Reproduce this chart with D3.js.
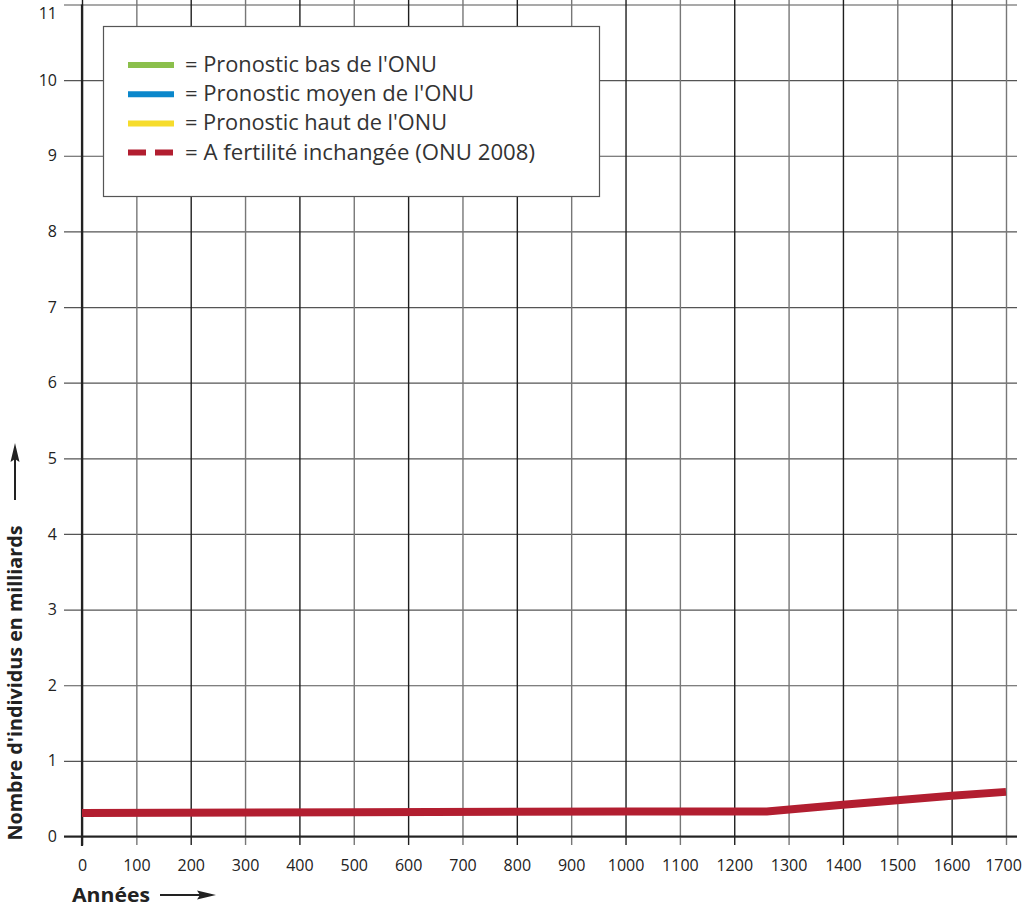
<!DOCTYPE html>
<html>
<head>
<meta charset="utf-8">
<script src="https://cdn.jsdelivr.net/npm/d3@7"></script>
<style>
  body { margin: 0; background: #fff; }
  text { font-family: "Open Sans", sans-serif; }
</style>
</head>
<body>
<div class="chart"></div>
<script>
// data
var years = [0, 500, 1000, 1260, 1400, 1500, 1600, 1700];
var popConstant = [0.31, 0.32, 0.33, 0.33, 0.42, 0.48, 0.54, 0.59];
var xTicks = d3.range(0, 1701, 100);
var yTicks = d3.range(0, 12, 1);
var legendLabels = [
  "= Pronostic bas de l'ONU",
  "= Pronostic moyen de l'ONU",
  "= Pronostic haut de l'ONU",
  "= A fertilité inchangée (ONU 2008)"
];
var legendColors = ["#8bbf4c", "#0a87cb", "#f6dc2c", "#b21e30"];
var legendDashed = [false, false, false, true];

var width = 1024, height = 910;

const svg = d3.select(".chart")
  .append("svg")
  .attr("width", width)
  .attr("height", height);

var x = d3.scaleLinear().domain([0, 1700]).range([82, 1006]);
var y = d3.scaleLinear().domain([0, 11]).range([836.5, 4.5]);

// horizontal grid + y labels
var yAxis = d3.axisLeft(y)
  .tickValues(yTicks)
  .tickSize(-(1017 - 64))
  .tickPadding(7)
  .tickFormat(d3.format("d"));

svg.append("g")
  .attr("transform", "translate(64,0)")
  .call(yAxis)
  .call(g => g.select(".domain").remove())
  .call(g => g.selectAll(".tick line").attr("stroke", "#555").attr("stroke-width", 1.2))
  .call(g => g.selectAll(".tick text")
    .attr("fill", "#222")
    .attr("font-size", 16)
    .attr("font-weight", 500)
    .attr("dy", (d) => d === 11 ? "0.9em" : "0.32em"));

// vertical grid + x labels
var xAxis = d3.axisBottom(x)
  .tickValues(xTicks)
  .tickSize(-845)
  .tickPadding(8)
  .tickFormat(d3.format("d"));

svg.append("g")
  .attr("transform", "translate(0,845)")
  .call(xAxis)
  .call(g => g.select(".domain").remove())
  .call(g => g.selectAll(".tick line")
    .attr("stroke", (d, i) => i % 2 === 0 ? "#1e1e1e" : "#777")
    .attr("stroke-width", 1.4))
  .call(g => g.selectAll(".tick text")
    .attr("fill", "#222")
    .attr("font-size", 16)
    .attr("dx", d => d === 1700 ? -3 : 0)
    .attr("dy", "1.1em"));

// axis lines
svg.append("line")
  .attr("x1", 64).attr("x2", 1017)
  .attr("y1", y(0)).attr("y2", y(0))
  .attr("stroke", "#222").attr("stroke-width", 2.2);
svg.append("line")
  .attr("x1", x(0)).attr("x2", x(0))
  .attr("y1", y(11)).attr("y2", 846)
  .attr("stroke", "#222").attr("stroke-width", 2.2);

// legend
var legend = svg.append("g").attr("id", "legend");
legend.append("rect")
  .attr("x", 103.5).attr("y", 26.5)
  .attr("width", 496).attr("height", 170)
  .attr("fill", "#fff")
  .attr("stroke", "#555")
  .attr("stroke-width", 1.2);

var items = legend.selectAll(".item")
  .data(legendLabels)
  .enter()
  .append("g")
  .attr("class", "item")
  .attr("transform", (d, i) => "translate(0," + (65 + i * 29.2) + ")");

items.append("line")
  .attr("x1", 128).attr("x2", 174)
  .attr("y1", 0).attr("y2", 0)
  .attr("stroke", (d, i) => legendColors[i])
  .attr("stroke-width", 6)
  .attr("stroke-dasharray", (d, i) => legendDashed[i] ? "18,9" : null);

items.append("text")
  .attr("x", 185)
  .attr("y", 7)
  .attr("font-size", 21)
  .attr("textLength", (d, i) => [252, 289, 262, 350][i])
  .attr("lengthAdjust", "spacingAndGlyphs")
  .attr("fill", "#333")
  .text(d => d);

// population line
var line = d3.line()
  .x((d, i) => x(years[i]))
  .y(d => y(d));

svg.append("path")
  .datum(popConstant)
  .attr("fill", "none")
  .attr("stroke", "#b21e30")
  .attr("stroke-width", 8)
  .attr("d", line);

// axis titles
svg.append("text")
  .attr("transform", "translate(22,683) rotate(-90)")
  .attr("text-anchor", "middle")
  .attr("font-size", 19)
  .attr("font-weight", 700)
  .attr("fill", "#222")
  .attr("textLength", 315)
  .attr("lengthAdjust", "spacingAndGlyphs")
  .text("Nombre d'individus en milliards");
svg.append("line")
  .attr("x1", 15).attr("x2", 15)
  .attr("y1", 500).attr("y2", 455)
  .attr("stroke", "#222").attr("stroke-width", 2);
svg.append("path")
  .attr("d", "M15,443 L19.5,462 L15,459 L10.5,462 Z")
  .attr("fill", "#222");

svg.append("text")
  .attr("x", 72).attr("y", 902)
  .attr("font-size", 20)
  .attr("font-weight", 700)
  .attr("fill", "#222")
  .attr("textLength", 78)
  .attr("lengthAdjust", "spacingAndGlyphs")
  .text("Années");
svg.append("line")
  .attr("x1", 160).attr("x2", 205)
  .attr("y1", 895).attr("y2", 895)
  .attr("stroke", "#222").attr("stroke-width", 2);
svg.append("path")
  .attr("d", "M216,895 L197,899.5 L200,895 L197,890.5 Z")
  .attr("fill", "#222");
</script>
</body>
</html>
